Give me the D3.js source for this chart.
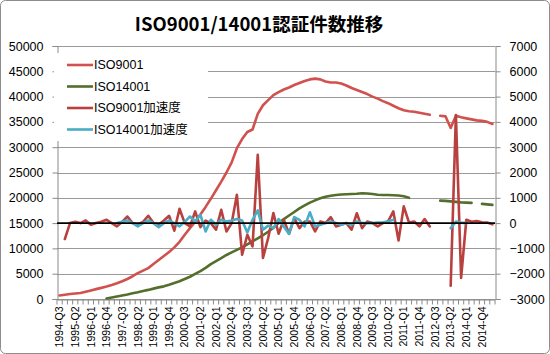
<!DOCTYPE html>
<html>
<head>
<meta charset="utf-8">
<script src="https://cdn.jsdelivr.net/npm/d3@7"></script>
<style>
  body { margin: 0; background: #fff; }
  text { font-family: "Liberation Sans", Arial, "Noto Sans CJK JP", sans-serif; }
</style>
</head>
<body>
<div id="chart"></div>
<script>
var w = 550;
var h = 354;

// quarters 1994-Q3 .. 2015-Q2
var quarters = [
  "1994-Q3","1994-Q4",
  "1995-Q1","1995-Q2","1995-Q3","1995-Q4","1996-Q1","1996-Q2","1996-Q3","1996-Q4",
  "1997-Q1","1997-Q2","1997-Q3","1997-Q4","1998-Q1","1998-Q2","1998-Q3","1998-Q4",
  "1999-Q1","1999-Q2","1999-Q3","1999-Q4","2000-Q1","2000-Q2","2000-Q3","2000-Q4",
  "2001-Q1","2001-Q2","2001-Q3","2001-Q4","2002-Q1","2002-Q2","2002-Q3","2002-Q4",
  "2003-Q1","2003-Q2","2003-Q3","2003-Q4","2004-Q1","2004-Q2","2004-Q3","2004-Q4",
  "2005-Q1","2005-Q2","2005-Q3","2005-Q4","2006-Q1","2006-Q2","2006-Q3","2006-Q4",
  "2007-Q1","2007-Q2","2007-Q3","2007-Q4","2008-Q1","2008-Q2","2008-Q3","2008-Q4",
  "2009-Q1","2009-Q2","2009-Q3","2009-Q4","2010-Q1","2010-Q2","2010-Q3","2010-Q4",
  "2011-Q1","2011-Q2","2011-Q3","2011-Q4","2012-Q1","2012-Q2","2012-Q3","2012-Q4",
  "2013-Q1","2013-Q2","2013-Q3","2013-Q4","2014-Q1","2014-Q2","2014-Q3","2014-Q4",
  "2015-Q1","2015-Q2"
];

var iso9001 = [
  700, 850, 1000, 1100, 1200, 1450, 1700, 1950, 2200, 2450,
  2750, 3100, 3500, 3950, 4500, 5100, 5600, 6100, 6900, 7700,
  8500, 9300, 10200, 11300, 12700, 14000, 15300, 16700, 18200, 19800,
  21500, 23200, 25000, 27000, 29800, 31600, 33000, 33500, 36600, 38300,
  39300, 40300, 40900, 41400, 41800, 42300, 42700, 43100, 43400, 43550,
  43400, 43000, 42800, 42800, 42600, 42200, 41700, 41300, 40900, 40500,
  40000, 39600, 39100, 38700, 38200, 37700, 37300, 37100, 37000, 36800,
  36600, 36400, null, 36200, 36100, 33800, 36200, 35900, 35700, 35500,
  35300, 35200, 35000, 34600
];

var iso14001 = [
  null, null, null, null, null, null, null, null, null, 100,
  300, 500, 700, 900, 1150, 1350, 1600, 1800, 2050, 2300,
  2500, 2800, 3150, 3500, 3950, 4400, 4950, 5500, 6150, 6900,
  7500, 8100, 8700, 9200, 9700, 10200, 10800, 11400, 12000, 12600,
  13300, 14100, 15000, 15800, 16500, 17200, 17900, 18500, 19050, 19500,
  19900, 20200, 20400, 20550, 20650, 20700, 20750, 20800, 20900, 20850,
  20750, 20600, 20550, 20550, 20500, 20450, 20300, 20000, null, null,
  null, null, null, 19450, 19400, 19300, 19200, 19100, 19050, 19000,
  null, 18800, 18700, 18600
];

var accel9001 = [
  null, -630, 0, 50, 0, 105, -65, 0, 50, 130,
  0, -130, 50, 260, 0, -65, 50, 290, 0, -65,
  100, 290, -300, 565, 0, -130, 460, -160, 100, 0,
  -260, 525, -330, 0, 1120, -1250, -460, -920, 2700, -1380,
  -590, 395, -420, 130, -420, 200, -200, 65, 65, -330,
  65, 0, 235, -130, -65, 0, -260, 390, -200, 65,
  0, -130, 0, 65, 460, -690, 660, 25, 65, -130,
  160, -130, null, null, null, -2475, 4267, -2170, 130, 50,
  80, 30, 20, -50
];

var accel14001 = [
  null, null, null, null, null, null, null, null, null, null,
  null, 0, 50, 105, 0, -130, 0, 105, 0, -160,
  0, 105, 0, -130, 50, 260, 65, 330, -330, 130,
  -65, 130, 65, 100, 160, 105, -370, 130, 500, -260,
  -100, -200, 160, -130, -430, 235, 130, -130, 430, -130,
  -65, 0, 65, 0, -65, 0, -65, 65, 0, 0,
  0, 25, 30, 65, 130, null, null, null, null, null,
  null, null, null, null, null, -200, 60, 20, 0, null,
  null, null, null, null
];

var leftTicks = [0, 5000, 10000, 15000, 20000, 25000, 30000, 35000, 40000, 45000, 50000];
var rightTicks = [-3000, -2000, -1000, 0, 1000, 2000, 3000, 4000, 5000, 6000, 7000];
var seriesNames = ["ISO9001", "ISO14001", "ISO9001加速度", "ISO14001加速度"];
var seriesColors = ["#d0514e", "#536f2b", "#b8413f", "#4bacc6"];

var m = { left: 57, right: 495, top: 46, bottom: 299 };

var svg = d3.select("#chart")
            .append("svg")
            .attr("width", w)
            .attr("height", h);

// chart border
svg.append("rect")
   .attr("x", 0.5).attr("y", 0.5)
   .attr("width", w - 1).attr("height", h - 1)
   .attr("rx", 5)
   .attr("fill", "#fff")
   .attr("stroke", "#8c8c8c");

// title
svg.append("text")
   .attr("x", 259).attr("y", 31)
   .attr("text-anchor", "middle")
   .style("font-family", "'Noto Sans CJK JP', sans-serif")
   .style("font-weight", "bold")
   .style("font-size", "18.5px")
   .text("ISO9001/14001認証件数推移");

var xScale = d3.scaleBand()
               .domain(quarters)
               .range([m.left, m.right])
               .padding(0);

var yLeft = d3.scaleLinear().domain([0, 50000]).range([m.bottom, m.top]);
var yRight = d3.scaleLinear().domain([-3000, 7000]).range([m.bottom, m.top]);

// gridlines
svg.append("g")
   .selectAll("line")
   .data(leftTicks)
   .enter()
   .append("line")
   .attr("x1", m.left).attr("x2", m.right)
   .attr("y1", function(d) { return Math.round(yLeft(d)) + 0.5; })
   .attr("y2", function(d) { return Math.round(yLeft(d)) + 0.5; })
   .attr("stroke", "#9a9a9a");

// left axis
var gl = svg.append("g")
   .attr("transform", "translate(" + (m.left + 0.5) + ",0)")
   .call(d3.axisLeft(yLeft).tickValues(leftTicks).tickFormat(d3.format("d"))
           .tickSize(5).tickPadding(9));
gl.selectAll("path, line").attr("stroke", "#8a8a8a");
gl.selectAll("text").style("font-size", "12.5px").attr("fill", "#000");

// right axis
var gr = svg.append("g")
   .attr("transform", "translate(" + (m.right + 0.5) + ",0)")
   .call(d3.axisRight(yRight).tickValues(rightTicks).tickFormat(d3.format("d"))
           .tickSize(5).tickPadding(9));
gr.selectAll("path, line").attr("stroke", "#8a8a8a");
gr.selectAll("text").style("font-size", "12.5px").attr("fill", "#000");

// bottom axis, ticks on category boundaries, label every third quarter
var bw = xScale.bandwidth();
var gx = svg.append("g")
   .attr("transform", "translate(0," + (m.bottom + 0.5) + ")")
   .call(d3.axisBottom(xScale)
           .tickSize(5)
           .tickSizeOuter(0)
           .tickFormat(function(d, i) { return i % 3 === 0 ? d : ""; }));
gx.select(".domain").attr("stroke", "#8a8a8a");
gx.selectAll(".tick line")
  .attr("stroke", "#8a8a8a")
  .attr("transform", "translate(" + (-bw / 2) + ",0)");
gx.append("line")
  .attr("x1", m.right).attr("x2", m.right)
  .attr("y1", 0).attr("y2", 5)
  .attr("stroke", "#8a8a8a");
gx.selectAll(".tick text")
  .attr("transform", "rotate(-90)")
  .attr("text-anchor", "end")
  .attr("x", -7)
  .attr("y", 0)
  .attr("dy", "0.35em")
  .attr("fill", "#000")
  .style("font-size", "10.5px");

// series
function lineFor(scale) {
  return d3.line()
           .defined(function(d) { return d != null; })
           .x(function(d, i) { return xScale(quarters[i]) + bw / 2; })
           .y(function(d) { return scale(d); });
}

var allSeries = [
  { values: iso9001, scale: yLeft },
  { values: iso14001, scale: yLeft },
  { values: accel9001, scale: yRight },
  { values: accel14001, scale: yRight }
];

svg.append("g")
   .selectAll("path")
   .data(allSeries)
   .enter()
   .append("path")
   .attr("d", function(s) { return lineFor(s.scale)(s.values); })
   .attr("fill", "none")
   .attr("stroke", function(s, i) { return seriesColors[i]; })
   .attr("stroke-width", 2.6)
   .attr("stroke-linejoin", "round")
   .attr("stroke-linecap", "round");

// zero line of the right axis
svg.append("line")
   .attr("x1", m.left).attr("x2", m.right)
   .attr("y1", yRight(0)).attr("y2", yRight(0))
   .attr("stroke", "#000")
   .attr("stroke-width", 1.6);

// legend
var lg = svg.append("g");
lg.append("rect")
  .attr("x", 54).attr("y", 53)
  .attr("width", 154).attr("height", 88)
  .attr("fill", "#fff");
var items = lg.selectAll("g.item")
  .data(seriesNames)
  .enter()
  .append("g")
  .attr("transform", function(d, i) { return "translate(0," + (65 + i * 21.5) + ")"; });
items.append("line")
  .attr("x1", 67).attr("x2", 93)
  .attr("stroke", function(d, i) { return seriesColors[i]; })
  .attr("stroke-width", 2.6);
items.append("text")
  .attr("x", 94).attr("dy", "0.35em")
  .style("font-size", "12.5px")
  .text(function(d) { return d; });
</script>
</body>
</html>
